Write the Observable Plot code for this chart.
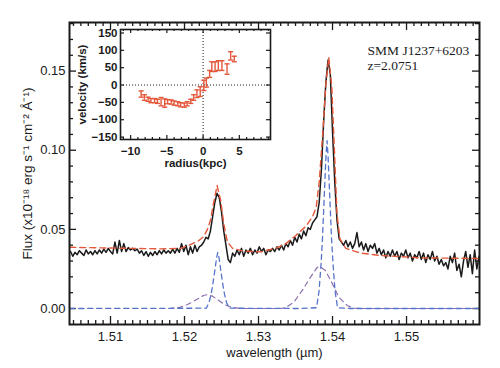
<!DOCTYPE html>
<html><head><meta charset="utf-8">
<script src="https://cdn.jsdelivr.net/npm/d3@7"></script>
<script src="https://cdn.jsdelivr.net/npm/@observablehq/plot@0.6"></script>
<style>
body{margin:0;background:#fff;}
#wrap{position:relative;width:500px;height:368px;overflow:hidden;background:#fff;}
#inset{position:absolute;left:72px;top:20px;}
</style></head><body><div id="wrap"><div id="main"></div><div id="inset"></div></div>
<script>
// ---- Spectrum (regular wavelength grid) ----
const wlStart = 1.5046, wlStep = 0.0003;
const flux = [
0.036,0.033,0.0355,0.034,0.0365,0.035,0.0335,0.037,0.0345,0.036,0.034,0.0365,0.0345,0.037,0.035,0.0375,0.0355,0.038,0.036,0.0345,
0.042,0.035,0.043,0.036,0.041,0.036,0.0385,0.037,0.038,0.0365,0.0375,0.035,0.0365,0.0335,0.036,0.033,0.0355,0.0335,0.036,0.034,
0.0365,0.0345,0.037,0.035,0.0365,0.035,0.0375,0.035,0.038,0.0355,0.041,0.036,0.040,0.034,0.039,0.035,0.040,0.036,0.039,0.040,
0.042,0.045,0.044,0.049,0.058,0.067,0.0728,0.070,0.061,0.049,0.040,0.031,0.029,0.035,0.033,0.037,0.034,0.038,0.033,0.037,
0.035,0.038,0.034,0.037,0.035,0.039,0.036,0.038,0.034,0.037,0.036,0.038,0.036,0.039,0.037,0.040,0.037,0.041,0.039,0.043,
0.040,0.045,0.042,0.047,0.044,0.049,0.046,0.051,0.050,0.054,0.056,0.058,0.067,0.088,0.118,0.143,0.157,0.148,0.112,0.080,
0.056,0.044,0.042,0.040,0.043,0.039,0.042,0.038,0.041,0.048,0.039,0.042,0.037,0.041,0.036,0.040,0.038,0.041,0.035,0.038,
0.034,0.037,0.032,0.036,0.033,0.037,0.033,0.036,0.031,0.035,0.033,0.037,0.032,0.035,0.030,0.034,0.032,0.036,0.031,0.035,
0.029,0.034,0.031,0.036,0.030,0.033,0.028,0.031,0.027,0.029,0.025,0.033,0.029,0.035,0.024,0.028,0.020,0.030,0.036,0.026,
0.034,0.022,0.037,0.025,0.033];
const wavelength = flux.map((_, i) => +(wlStart + i * wlStep).toFixed(5));

// ---- Total model fit (red dashed) ----
const fitWl   = [1.5045,1.5087,1.5127,1.5168,1.5195,1.5204,1.5218,1.5226,1.5231,1.5235,1.5239,1.5244,1.5249,1.5253,1.5258,1.5265,1.5280,1.5303,1.5323,1.5337,1.5350,1.5364,1.5373,1.5378,1.5382,1.5387,1.5391,1.5395,1.5399,1.5403,1.5406,1.5410,1.5418,1.5438,1.5465,1.5519,1.5598];
const fitFlux = [0.0387,0.0383,0.0380,0.0377,0.0380,0.0395,0.0425,0.0455,0.050,0.0556,0.066,0.0777,0.068,0.0536,0.042,0.038,0.0362,0.0358,0.038,0.041,0.046,0.052,0.058,0.064,0.080,0.112,0.142,0.1587,0.140,0.095,0.060,0.044,0.038,0.035,0.0335,0.032,0.0316];

// ---- Narrow components (blue dashed) ----
const narrowWl   = [1.5045,1.52295,1.52331,1.52361,1.52382,1.52413,1.52435,1.5245,1.52465,1.52487,1.52518,1.52539,1.52569,1.52605,1.53568,1.53784,1.53818,1.53845,1.53865,1.53892,1.53912,1.53926,1.53939,1.53959,1.53986,1.54007,1.54034,1.54068,1.54243,1.5598];
const narrowFlux = [0,0.0002,0.0037,0.0094,0.0151,0.0251,0.0325,0.0355,0.0325,0.0251,0.0151,0.0094,0.0037,0.0002,0,0.0005,0.011,0.028,0.045,0.075,0.097,0.106,0.097,0.075,0.045,0.028,0.011,0.0005,0,0];

// ---- Broad components (purple dashed) ----
const broadWl   = [1.5045,1.51811,1.51919,1.52041,1.52176,1.52257,1.52311,1.52378,1.52459,1.5254,1.52635,1.52757,1.53297,1.53365,1.53477,1.53591,1.53703,1.53793,1.53828,1.53905,1.53996,1.54085,1.54199,1.54284,1.54378,1.5598];
const broadFlux = [0,0,0.0005,0.0025,0.006,0.0082,0.0088,0.0078,0.0052,0.0025,0.0008,0,0,0.0005,0.004,0.0114,0.0198,0.026,0.0265,0.024,0.0158,0.0072,0.0019,0.0002,0,0];

// ---- Inset: velocity curve ----
const radius   = [-8.55,-8.1,-7.6,-7.2,-6.7,-6.3,-5.8,-5.3,-4.9,-4.4,-4.0,-3.5,-3.1,-2.6,-2.2,-1.7,-1.3,-0.85,-0.4,0.1,0.45,0.9,1.2,1.65,2.1,2.6,3.3,3.8,4.3];
const velocity = [-26,-36,-41,-45,-45,-47,-48,-52,-48,-49,-52,-54,-57,-58,-54,-47,-36,-25,-19,-1,7,32,53,53,56,56,46,84,75];
const velErr   = [9,8,6,6,6,6,12,12,6,6,6,6,6,6,6,6,8,11,14,15,13,10,14,14,14,14,15,12,8];

// ---- Tick labels ----
const xTicks = [1.51,1.52,1.53,1.54,1.55];
const yTicks = [0.00,0.05,0.10,0.15];
const insetXTicks = [-10,-5,0,5];
const insetYTicks = [-150,-100,-50,0,50,100,150];
const yLabel = "Flux (x10⁻¹⁸ erg s⁻¹ cm⁻² Å⁻¹)";
const xLabel = "wavelength (µm)";
const objName = "SMM J1237+6203";
const redshift = "z=2.0751";

const spec = wavelength.map((w, i) => ({w, f: flux[i]}));
const fit = fitWl.map((w, i) => ({w, f: fitFlux[i]}));
const narrow = narrowWl.map((w, i) => ({w, f: narrowFlux[i]}));
const broad = broadWl.map((w, i) => ({w, f: broadFlux[i]}));
const vel = radius.map((r, i) => ({r, v: velocity[i], e: velErr[i]}));

const RED = "#e3573a", BLUE = "#5673cc", PURP = "#8c6fae", INK = "#1a1a1a";

// main geometry
const W = 500, H = 368, mL = 69, mR = 21, mT = 22, mB = 44;
const iW = W - mL - mR, iH = H - mT - mB;
const xMinor = d3.range(1505, 1560).map(v => v / 1000).filter(v => !xTicks.some(t => Math.abs(t - v) < 1e-9));
const yMinor = d3.range(0, 19).map(v => v / 100).filter(v => !yTicks.some(t => Math.abs(t - v) < 1e-9));
const tk = {stroke: INK, strokeWidth: 1.3};

const main = Plot.plot({
  width: W, height: H,
  marginLeft: mL, marginRight: mR, marginTop: mT, marginBottom: mB,
  x: {domain: [1.50446, 1.55986]},
  y: {domain: [-0.0101, 0.1807]},
  style: {fontFamily: "'Liberation Sans', Arial, sans-serif", fontSize: "13px", color: INK, background: "white"},
  marks: [
    Plot.ruleX(xMinor, {...tk, insetTop: iH - 4}),
    Plot.ruleX(xTicks, {...tk, insetTop: iH - 8}),
    Plot.ruleX(xMinor, {...tk, insetBottom: iH - 4}),
    Plot.ruleX(xTicks, {...tk, insetBottom: iH - 8}),
    Plot.ruleY(yMinor, {...tk, insetRight: iW - 4}),
    Plot.ruleY(yTicks, {...tk, insetRight: iW - 7}),
    Plot.ruleY(yMinor, {...tk, insetLeft: iW - 4}),
    Plot.ruleY(yTicks, {...tk, insetLeft: iW - 7}),
    Plot.line(broad, {x: "w", y: "f", stroke: PURP, strokeWidth: 1.2, strokeDasharray: "5,4"}),
    Plot.line(narrow, {x: "w", y: "f", stroke: BLUE, strokeWidth: 1.3, strokeDasharray: "5,4"}),
    Plot.line(spec, {x: "w", y: "f", stroke: INK, strokeWidth: 1.5}),
    Plot.line(fit, {x: "w", y: "f", stroke: RED, strokeWidth: 1.4, strokeDasharray: "6,4"}),
    Plot.frame({stroke: INK, strokeWidth: 2}),
    Plot.axisX({ticks: xTicks, tickSize: 0, tickPadding: 7, tickFormat: d3.format(".2f"), label: null, fontSize: 13}),
    Plot.axisY({ticks: yTicks, tickSize: 0, tickPadding: 4, tickFormat: d3.format(".2f"), label: null, fontSize: 13}),
    Plot.text([xLabel], {text: d => d, frameAnchor: "bottom", dy: 28, textAnchor: "middle", lineAnchor: "middle", fontSize: 13}),
    Plot.text([yLabel], {text: d => d, frameAnchor: "left", dx: -42, rotate: -90, textAnchor: "middle", lineAnchor: "middle", fontSize: 13.5}),
    Plot.text([objName], {text: d => d, frameAnchor: "top-right", dx: -112, dy: 32, textAnchor: "start", lineAnchor: "bottom", fontFamily: "'Liberation Serif', 'Times New Roman', serif", fontSize: 13.5}),
    Plot.text([redshift], {text: d => d, frameAnchor: "top-right", dx: -112, dy: 47, textAnchor: "start", lineAnchor: "bottom", fontFamily: "'Liberation Serif', 'Times New Roman', serif", fontSize: 13.5})
  ]
});
document.getElementById("main").appendChild(main);

// inset geometry
const IW = 203, IH = 155, imL = 48, imR = 5, imT = 9, imB = 36;
const iiW = IW - imL - imR, iiH = IH - imT - imB;
const rMinor = d3.range(-11, 10).filter(v => !insetXTicks.includes(v));
const itk = {stroke: INK, strokeWidth: 1.2};
const inset = Plot.plot({
  width: IW, height: IH,
  marginLeft: imL, marginRight: imR, marginTop: imT, marginBottom: imB,
  x: {domain: [-11.4, 9.3]},
  y: {domain: [-157, 160]},
  style: {fontFamily: "'Liberation Sans', Arial, sans-serif", fontSize: "11.5px", fontWeight: "bold", color: INK, background: "transparent"},
  marks: [
    Plot.frame({fill: "white", stroke: null}),
    Plot.ruleX(rMinor, {...itk, insetTop: iiH - 2}),
    Plot.ruleX(insetXTicks, {...itk, insetTop: iiH - 4}),
    Plot.ruleX(rMinor, {...itk, insetBottom: iiH - 2}),
    Plot.ruleX(insetXTicks, {...itk, insetBottom: iiH - 4}),
    Plot.ruleY(insetYTicks, {...itk, insetRight: iiW - 4}),
    Plot.ruleY(insetYTicks, {...itk, insetLeft: iiW - 4}),
    Plot.ruleY([0], {stroke: INK, strokeWidth: 1, strokeDasharray: "1,2"}),
    Plot.ruleX([0], {stroke: INK, strokeWidth: 1, strokeDasharray: "1,2"}),
    Plot.ruleX(vel, {x: "r", y1: d => d.v - d.e, y2: d => d.v + d.e, stroke: RED, strokeWidth: 1.4}),
    Plot.link(vel, {x1: d => d.r - 0.35, x2: d => d.r + 0.35, y1: d => d.v + d.e, y2: d => d.v + d.e, stroke: RED, strokeWidth: 1.4}),
    Plot.link(vel, {x1: d => d.r - 0.35, x2: d => d.r + 0.35, y1: d => d.v - d.e, y2: d => d.v - d.e, stroke: RED, strokeWidth: 1.4}),
    Plot.frame({stroke: INK, strokeWidth: 1.6}),
    Plot.axisX({ticks: insetXTicks, tickSize: 0, tickPadding: 7, label: null, fontSize: 11.5}),
    Plot.axisY({ticks: insetYTicks, tickSize: 0, tickPadding: 3, label: null, fontSize: 11.5}),
    Plot.text(["radius(kpc)"], {text: d => d, frameAnchor: "bottom", dy: 24, textAnchor: "middle", lineAnchor: "middle", fontSize: 11.5, fontWeight: "bold"}),
    Plot.text(["velocity (km/s)"], {text: d => d, frameAnchor: "left", dx: -38, rotate: -90, textAnchor: "middle", lineAnchor: "middle", fontSize: 11.5, fontWeight: "bold"})
  ]
});
document.getElementById("inset").appendChild(inset);
</script></body></html>
